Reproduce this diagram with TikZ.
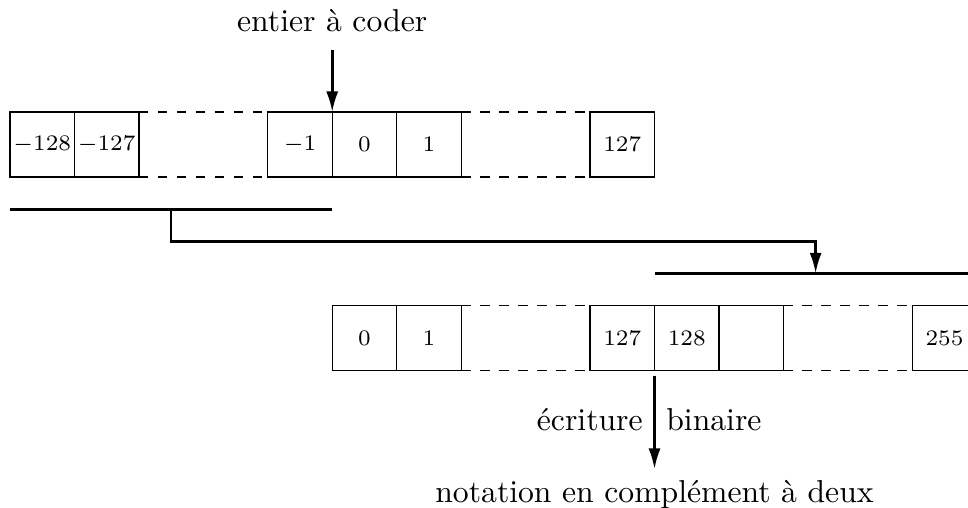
\documentclass[tikz,border=0pt]{standalone}
\usepackage{tikz}
\usetikzlibrary{arrows.meta, positioning, calc}

\begin{document}
\begin{tikzpicture}[
    x=0.0111cm, y=-0.0111cm,
    % cases des tableaux
    cell/.style={draw, thin, minimum width=0.715cm, minimum height=0.72cm, inner sep=0pt, outer sep=0pt, font=\scriptsize},
    % pointillés entre les cases
    gap/.style={draw, thin, dashed},
    % traits de regroupement
    bar/.style={draw, thick},
    % flèches
    arrow/.style={draw, thick, -{Latex[length=6.5pt, width=3.8pt]}},
    node distance=0pt
]
\useasboundingbox (0,0) rectangle (968,508);

% entiers signés
\node[cell] (neg128) at (42.2,144.5) {$-128$};
\node[cell, right=of neg128] (neg127) {$-127$};
\node[cell, right=1.43cm of neg127] (neg1) {$-1$};
\node[cell, right=of neg1] (zero) {$0$};
\node[cell, right=of zero] (one) {$1$};
\node[cell, right=1.43cm of one] (pos127) {$127$};
\draw[gap] (neg127.north east) -- (neg1.north west) (neg127.south east) -- (neg1.south west);
\draw[gap] (one.north east) -- (pos127.north west) (one.south east) -- (pos127.south west);

% entiers non signés
\node[cell, below=1.43cm of zero] (uzero) {$0$};
\node[cell, right=of uzero] (uone) {$1$};
\node[cell, right=1.43cm of uone] (u127) {$127$};
\node[cell, right=of u127] (u128) {$128$};
\node[cell, right=of u128] (uvide) {};
\node[cell, right=1.43cm of uvide] (u255) {$255$};
\draw[gap] (uone.north east) -- (u127.north west) (uone.south east) -- (u127.south west);
\draw[gap] (uvide.north east) -- (u255.north west) (uvide.south east) -- (u255.south west);

% entier à coder
\node[above=0.76cm of zero.north west] (entier) {entier à coder};
\draw[arrow, shorten <=2pt] (entier.south) -- (zero.north west);

% regroupements
\coordinate (ba) at ([yshift=-0.36cm]neg128.south west);
\coordinate (bb) at ([yshift=-0.36cm]zero.south west);
\coordinate (ca) at ([yshift=0.36cm]u128.north west);
\coordinate (cb) at ([yshift=0.36cm]u255.north east);
\draw[bar] (ba) -- (bb);
\draw[bar] (ca) -- (cb);
\coordinate (bm) at ($(ba)!0.5!(bb)$);
\coordinate (cm) at ($(ca)!0.5!(cb)$);
\draw[arrow] (bm) |- ($(bm)!0.5!(cm)$) -| (cm);

% écriture binaire
\node[below=1.09cm of u128.south west] (notation) {notation en complément à deux};
\draw[arrow, shorten <=1.5pt] (u128.south west) -- (notation.north)
    node[midway, left] {écriture} node[midway, right] {binaire};

\end{tikzpicture}
\end{document}
